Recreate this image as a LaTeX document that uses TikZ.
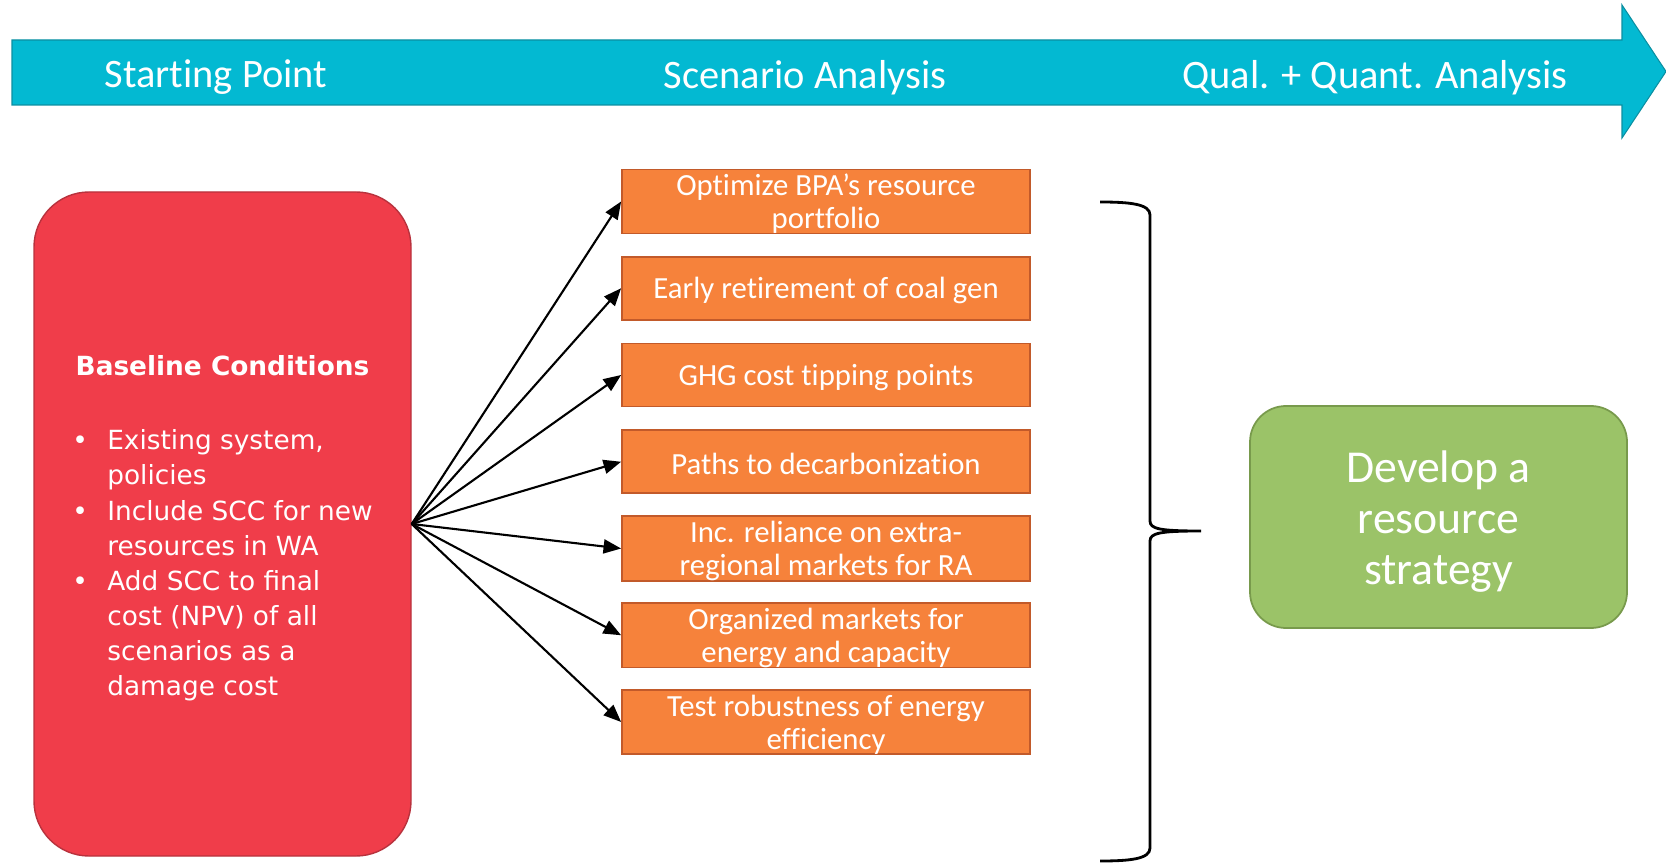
\documentclass[tikz,border=0pt]{standalone}
\usepackage{fontspec}
\setmainfont{Carlito}[Ligatures={NoCommon,NoRare,NoContextual}]
\newfontfamily\widefont{DejaVu Sans}
\usetikzlibrary{positioning,arrows.meta}

\definecolor{bandcyan}{HTML}{03B9D2}
\definecolor{banddark}{HTML}{0B8FA1}
\definecolor{basered}{HTML}{F03D4A}
\definecolor{baseredline}{HTML}{B8323D}
\definecolor{scenorange}{HTML}{F6823B}
\definecolor{scenorangeline}{HTML}{C25A2A}
\definecolor{stratgreen}{HTML}{9BC368}
\definecolor{stratgreenline}{HTML}{789A4C}

\newcommand{\bulletmark}{\makebox[0.70cm][l]{\textbullet}}
\newcommand{\bulletgap}{\hspace*{0.70cm}}

\begin{document}
\begin{tikzpicture}[node distance=1.735cm, auto, >={Triangle[length=10pt,width=8pt]}]
    \tikzstyle{phase} = [text=white, font=\fontsize{23}{27}\selectfont, inner sep=0pt]
    \tikzstyle{basebox} = [rectangle, rounded corners=1.1cm, minimum width=7.54cm, minimum height=13.28cm, draw=baseredline, fill=basered, line width=0.8pt]
    \tikzstyle{basetext} = [text=white, font=\widefont\fontsize{15}{20}\selectfont, align=left, inner sep=0pt]
    \tikzstyle{scenario} = [rectangle, minimum width=8.16cm, minimum height=1.26cm, inner sep=0pt, align=center, draw=scenorangeline, fill=scenorange, text=white, line width=1pt, font=\fontsize{17.5}{18.7}\selectfont]
    \tikzstyle{strategy} = [rectangle, rounded corners=0.72cm, minimum width=7.54cm, minimum height=4.44cm, align=center, draw=stratgreenline, fill=stratgreen, text=white, line width=1pt, font=\fontsize{26}{29}\selectfont]

    \useasboundingbox (0,0) rectangle (33.32,-17.30);

    % Phase arrow
    \filldraw[fill=bandcyan, draw=banddark, line width=0.6pt] (0.24,-0.80) -- (32.44,-0.80) -- (32.44,-0.10) -- (33.32,-1.43) -- (32.44,-2.76) -- (32.44,-2.10) -- (0.24,-2.10) -- cycle;
    \node [phase] (start) at (4.32,-1.55) {Starting Point};
    \node [phase] (scen) at (16.10,-1.55) {Scenario Analysis};
    \node [phase] (qual) at (27.50,-1.55) {Qual. + Quant. Analysis};

    % Baseline
    \node [basebox] (base) at (4.45,-10.48) {};
    \node [basetext, font=\widefont\bfseries\fontsize{15}{20}\selectfont] (basehead) at (4.45,-7.32) {Baseline Conditions};
    \node [basetext, anchor=west] (baselist) at (1.44,-11.31) {\bulletmark Existing system,\\ \bulletgap policies\\ \bulletmark Include SCC for new\\ \bulletgap resources in WA\\ \bulletmark Add SCC to final\\ \bulletgap cost (NPV) of all\\ \bulletgap scenarios as a\\ \bulletgap damage cost};

    % Scenarios
    \node [scenario] (optim) at (16.52,-4.03) {\rule{0pt}{15pt}Optimize BPA’s resource\\ portfolio};
    \node [scenario, below of=optim] (coal) {\rule{0pt}{15pt}Early retirement of coal gen};
    \node [scenario, below of=coal] (ghg) {\rule{0pt}{15pt}GHG cost tipping points};
    \node [scenario, below of=ghg] (decarb) {\rule{0pt}{15pt}Paths to decarbonization};
    \node [scenario, below of=decarb] (extra) {\rule{0pt}{15pt}Inc. reliance on extra-\\ regional markets for RA};
    \node [scenario, below of=extra] (organized) {\rule{0pt}{15pt}Organized markets for\\ energy and capacity};
    \node [scenario, below of=organized] (effic) {\rule{0pt}{15pt}Test robustness of energy\\ efficiency};

    % Strategy
    \node [strategy] (strat) at (28.77,-10.34) {\rule{0pt}{23pt}Develop a\\ resource\\ strategy};

    % Connections
    \draw [->, line width=1.2pt] (base.east) -- (optim.west);
    \draw [->, line width=1.2pt] (base.east) -- (coal.west);
    \draw [->, line width=1.2pt] (base.east) -- (ghg.west);
    \draw [->, line width=1.2pt] (base.east) -- (decarb.west);
    \draw [->, line width=1.2pt] (base.east) -- (extra.west);
    \draw [->, line width=1.2pt] (base.east) -- (organized.west);
    \draw [->, line width=1.2pt] (base.east) -- (effic.west);

    % Brace
    \draw [line width=1.6pt] (22.00,-4.04) .. controls (22.60,-4.04) and (23.00,-4.08) .. (23.00,-4.30) -- (23.00,-10.42) .. controls (23.00,-10.58) and (23.20,-10.62) .. (24.02,-10.62) .. controls (23.20,-10.62) and (23.00,-10.66) .. (23.00,-10.82) -- (23.00,-16.96) .. controls (23.00,-17.18) and (22.60,-17.22) .. (22.00,-17.22);
\end{tikzpicture}
\end{document}
